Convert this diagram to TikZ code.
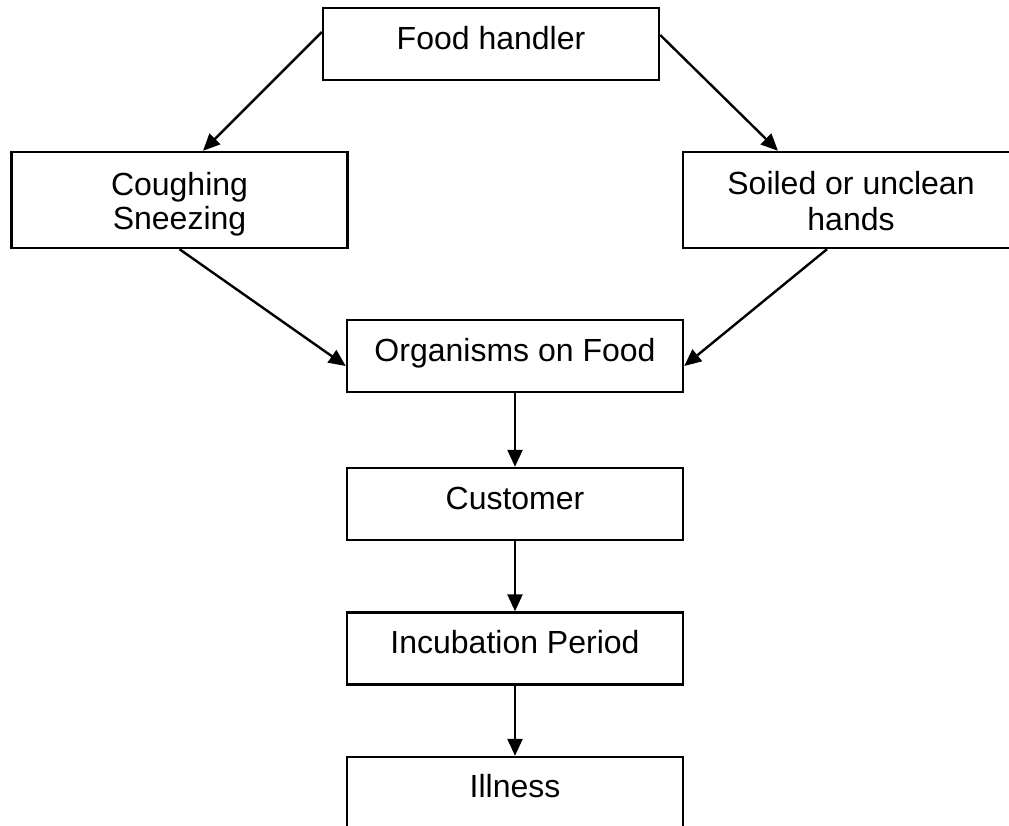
\documentclass[tikz,border=0pt]{standalone}
\usepackage{fontspec}
\setmainfont{Liberation Sans}
\usetikzlibrary{arrows.meta}
\begin{document}
\begin{tikzpicture}[x=1pt,y=-1pt,
  box/.style={draw, line width=2.4pt, rectangle, minimum width=336pt, inner sep=0pt,
    font=\fontsize{32}{38}\selectfont},
  onebox/.style={box, text height=41pt, text depth=31pt},
  lbl/.style={anchor=base, inner sep=0pt, font=\fontsize{32}{38}\selectfont},
  arr/.style={line width=2.4pt, -{Triangle[length=17pt,width=15pt]}}]
\fill[white] (0,0) rectangle (1009,825);
\clip (0,0) rectangle (1009,825);
% boxes
\node[onebox] (fh) at (491,44) {Food handler};
\node[box, minimum height=96pt] (cs) at (179.5,200) {};
\node[box, minimum height=96pt] (sh) at (851,200) {};
\node[onebox] (org) at (515,356) {Organisms on Food};
\node[onebox] (cu) at (515,504) {Customer};
\node[onebox] (ip) at (515,648.5) {Incubation Period};
\node[box, text height=40pt, text depth=102pt] (il) at (515,828) {Illness};
% two-line labels
\node[lbl] (cs1) at (179.5,195) {Coughing};
\node[lbl] (cs2) at (179.5,229) {Sneezing};
\node[lbl] (sh1) at (851,194) {Soiled or unclean};
\node[lbl] (sh2) at (851,230) {hands};
% connectors
\draw[arr] ([yshift=12pt]fh.west) -- ([xshift=23.5pt]cs.north);
\draw[arr] ([yshift=9pt]fh.east) -- ([xshift=-73pt]sh.north);
\draw[arr] (cs.south) -- ([yshift=-10pt]org.west);
\draw[arr] ([xshift=-24pt]sh.south) -- ([yshift=-10pt]org.east);
\draw[arr] (org.south) -- (cu.north);
\draw[arr] (cu.south) -- (ip.north);
\draw[arr] (ip.south) -- (il.north);
\end{tikzpicture}
\end{document}
